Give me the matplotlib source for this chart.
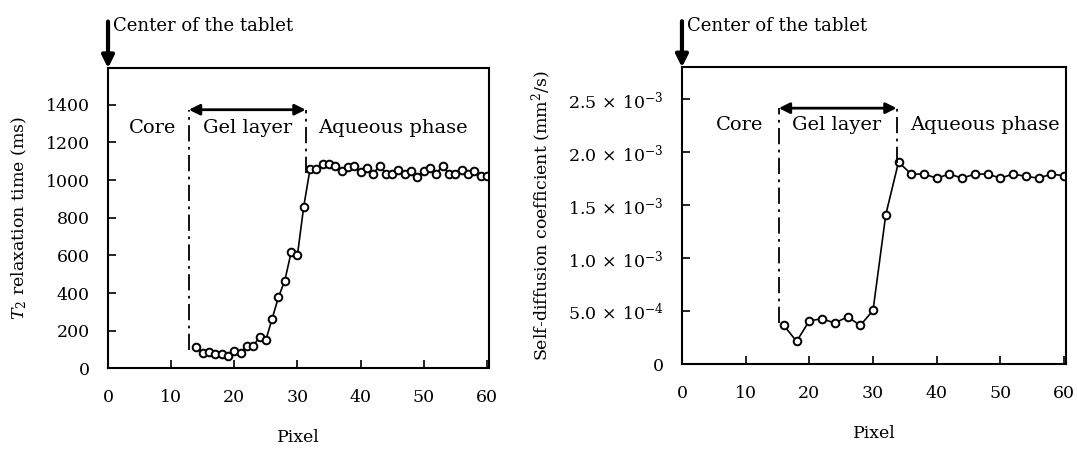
import matplotlib
matplotlib.use("Agg")
from matplotlib import pyplot as plt

plt.rcParams.update({'font.size': 12.5, 'font.family': 'DejaVu Serif',
                     'mathtext.fontset': 'dejavuserif'})

# T2 relaxation time (ms) vs pixel
t2_pixel = list(range(14, 61))
t2_ms = [112, 81, 88, 77, 77, 66, 95, 81, 121, 121, 166, 151, 265, 379, 467, 616,
         603, 860, 1060, 1060, 1085, 1085, 1073, 1051, 1069, 1076, 1041, 1064, 1034,
         1076, 1034, 1034, 1055, 1034, 1046, 1016, 1046, 1064, 1034, 1076, 1034,
         1034, 1055, 1034, 1046, 1020, 1020]

# Self-diffusion coefficient (mm2/s) vs pixel
d_pixel = list(range(16, 61, 2))
d_coef = [0.368e-3, 0.218e-3, 0.412e-3, 0.431e-3, 0.390e-3, 0.450e-3, 0.368e-3,
          0.510e-3, 1.411e-3, 1.907e-3, 1.794e-3, 1.794e-3, 1.756e-3, 1.794e-3,
          1.756e-3, 1.794e-3, 1.794e-3, 1.756e-3, 1.794e-3, 1.772e-3, 1.756e-3,
          1.794e-3, 1.778e-3]

x_ticks = [0, 10, 20, 30, 40, 50, 60]
t2_ticks = [0, 200, 400, 600, 800, 1000, 1200, 1400]
d_ticks = [0, 0.5e-3, 1.0e-3, 1.5e-3, 2.0e-3, 2.5e-3]
d_ticklabels = ['0', r'5.0$\,\times\,$10$^{-4}$', r'1.0$\,\times\,$10$^{-3}$',
                r'1.5$\,\times\,$10$^{-3}$', r'2.0$\,\times\,$10$^{-3}$',
                r'2.5$\,\times\,$10$^{-3}$']

# boundaries: (core/gel, gel/aqueous, arrow height, bottom of left line, bottom of right line)
t2_bounds = (12.8, 31.3, 1374, 98, 1040)
d_bounds = (15.2, 33.7, 2.415e-3, 0.39e-3, 1.90e-3)

fig = plt.figure(figsize=(10.77, 4.51), dpi=100)
ax1 = fig.add_axes([0.1003, 0.183, 0.3535, 0.666])
ax2 = fig.add_axes([0.6332, 0.1918, 0.3566, 0.659])


def style(ax, ymax, label_y):
    ax.set_xlim(0, 60.3)
    ax.set_ylim(0, ymax)
    ax.set_xticks(x_ticks)
    for s in ax.spines.values():
        s.set_linewidth(1.5)
    ax.tick_params(direction='in', length=6, width=1.2, pad=15)
    ax.tick_params(axis='y', pad=13)
    ax.set_xlabel('Pixel', labelpad=16)
    # "Center of the tablet" arrow
    ax.annotate('', xy=(0, 1.0), xycoords='axes fraction', xytext=(0, 1.155),
                arrowprops=dict(arrowstyle='-|>', lw=3, color='k', mutation_scale=18,
                                shrinkA=0, shrinkB=0), annotation_clip=False)
    ax.text(0.014, label_y, 'Center of the tablet', transform=ax.transAxes,
            ha='left', va='center', fontsize=13)


def regions(ax, b, core_x, gel_x, aq_x, text_y):
    x1, x2, ya, yb1, yb2 = b
    dash = dict(color='k', lw=1.3, dashes=(9, 3, 1.5, 3))
    ax.plot([x1, x1], [yb1, ya], **dash)
    ax.plot([x2, x2], [yb2, ya], **dash)
    ax.annotate('', xy=(x1, ya), xytext=(x2, ya),
                arrowprops=dict(arrowstyle='<|-|>', lw=2, color='k', mutation_scale=16,
                                shrinkA=0, shrinkB=0))
    ax.text(core_x, text_y, 'Core', ha='center', va='center', fontsize=14)
    ax.text(gel_x, text_y, 'Gel layer', ha='center', va='center', fontsize=14)
    ax.text(aq_x, text_y, 'Aqueous phase', ha='center', va='center', fontsize=14)


# left panel
ax1.plot(t2_pixel, t2_ms, '-o', color='k', lw=1.2, ms=5.5, mfc='white', mew=1.4)
style(ax1, 1595, 1.14)
ax1.set_yticks(t2_ticks)
ax1.set_ylabel(r'$T_2$ relaxation time (ms)', labelpad=12)
regions(ax1, t2_bounds, 7.1, 22.1, 45.2, 1276)

# right panel
ax2.plot(d_pixel, d_coef, '-o', color='k', lw=1.2, ms=5.5, mfc='white', mew=1.4)
style(ax2, 2.8e-3, 1.14)
ax2.set_yticks(d_ticks)
ax2.set_yticklabels(d_ticklabels)
ax2.set_ylabel('Self-diffusion coefficient (mm$^2$/s)', labelpad=10)
regions(ax2, d_bounds, 9.1, 24.3, 47.6, 2.26e-3)

plt.savefig('out.png', dpi=100)
